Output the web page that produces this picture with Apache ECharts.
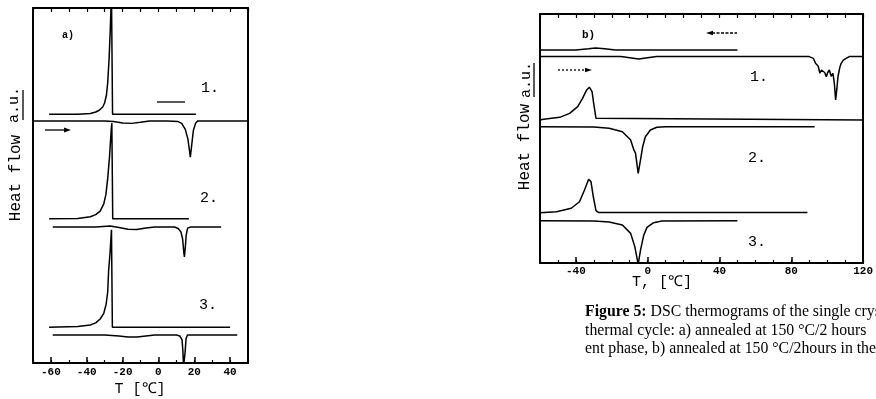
<!DOCTYPE html>
<html><head><meta charset="utf-8">
<script src="https://cdn.jsdelivr.net/npm/echarts@6/dist/echarts.min.js"></script>
<style>html,body{margin:0;padding:0;background:#fff}#c{width:876px;height:399px}</style>
</head><body><div id="c"></div>
<script>
// ---------- Panel a) : T [°C] vs heat flow (a.u.) ----------
const aXLabels = [-60, -40, -20, 0, 20, 40];
const aCool1 = [[-61,70.1],[-45,70.1],[-38,70.3],[-35,70.7],[-33,71.2],[-31,72.2],[-30,73.3],[-29,75.5],[-28.3,79],[-27.5,86],[-26.8,95],[-26.2,104],[-25.6,70.1],[21,70.1]];
const aHeat1 = [[-70,68.2],[-30,68.2],[-25,68.0],[-20,67.6],[-15,67.5],[-10,67.8],[-5,68.2],[5,68.2],[11,68.0],[13,67.5],[15,65.8],[16.5,63],[17.3,60],[17.8,58.0],[18.5,61],[19.5,65.5],[20.8,67.6],[22,68.2],[50,68.2]];
const aCool2 = [[-61,40.6],[-45,40.7],[-38,41.2],[-35,41.8],[-32.5,42.8],[-30.5,44.8],[-29.3,47.5],[-28.3,52],[-27.3,58],[-26.3,66],[-26,67.6],[-25.5,40.6],[17,40.6]];
const aHeat2 = [[-59,38.3],[-35,38.3],[-27,38.6],[-22,38.2],[-17,37.7],[-12,37.6],[-7,38.0],[-2,38.3],[9,38.3],[11,37.9],[12.5,37],[13.5,35],[14.2,31],[14.5,29.9],[15,32.5],[15.5,36],[16.3,38.0],[18,38.3],[35,38.3]];
const aCool3 = [[-61,10.1],[-45,10.3],[-38,10.7],[-35,11.3],[-32.5,12.4],[-30.5,14],[-29.2,16.5],[-28.3,20],[-27.8,26],[-27,31],[-26.2,37.5],[-25.7,10.1],[40,10.1]];
const aHeat3 = [[-59,7.9],[-30,7.9],[-22,7.6],[-17,7.3],[-12,7.3],[-7,7.6],[-2,7.9],[10,7.9],[12,7.6],[13.2,6.5],[13.7,3],[14,-1],[14.5,-1],[14.9,3],[15.4,6.8],[16.2,7.9],[44,7.9]];

// ---------- Panel b) ----------
const bXLabels = [-40, 0, 40, 80, 120];
const bCool1 = [[-60,85.5],[-40,85.5],[-33,86.0],[-29,86.3],[-24,86.0],[-18,85.5],[50,85.5]];
const bHeat1 = [[-60,82.9],[-15,82.9],[-10,82.4],[-5,81.9],[0,82.4],[5,82.9],[90,82.9],[92.3,82.2],[93.5,80.2],[95,79],[95.9,76.2],[96.8,77.5],[97.7,78.2],[98.6,76.5],[99.5,74.8],[100.3,76.5],[101.2,77.5],[102.2,75],[103.2,76.2],[104,72],[104.7,65.5],[105.4,70],[106,74.8],[107,78.5],[107.8,80.2],[109,81.5],[110.5,82.2],[112.3,82.9],[120,82.9]];
const bCool2 = [[-60,57.4],[-58,57.7],[-49,58.5],[-43.5,60.1],[-39,62.8],[-36.3,66.1],[-34,69.5],[-32.5,70.6],[-31,68.8],[-30.1,64.1],[-28.8,58.1],[-28,57.4],[120,57.4]];
const bHeat2 = [[-60,54.7],[-30,54.6],[-21.5,54.1],[-14.1,52.7],[-9.5,49.4],[-7.7,45.4],[-6.8,44.1],[-5.3,36.0],[-4,41.4],[-2.8,46.7],[-1.3,50.7],[1.5,53.4],[5.1,54.5],[10,54.7],[93,54.7]];
const bCool3 = [[-60,20.2],[-50.8,20.6],[-42.6,22.0],[-38,24.6],[-35.2,29.3],[-32.9,33.6],[-31.6,32.7],[-30.3,26.6],[-28.8,21.0],[-27.5,20.3],[89,20.3]];
const bHeat3 = [[-60,17.0],[-30,16.9],[-21.5,16.5],[-14.1,15.3],[-9.5,11.9],[-7.2,6.6],[-5.3,-0.5],[-4,5.2],[-2.2,11.2],[-0.4,14.3],[3.3,16.2],[7.9,16.9],[50,17.0]];

const captionLines = [
  '{b|Figure 5:} DSC thermograms of the single crystal',
  'thermal cycle: a) annealed at 150 \u00B0C/2 hours',
  'ent phase, b) annealed at 150 \u00B0C/2hours in the'
];

const BLACK = '#000';
const MONO = 'Liberation Mono';

function xAxesFor(gi, min, max, labels, margin) {
  return [
    { gridIndex: gi, type: 'value', min: min, max: max, interval: 10, position: 'bottom',
      axisLine: { show: true, onZero: false, lineStyle: { color: BLACK, width: 2 } },
      axisTick: { show: true, inside: true, length: 6, customValues: labels, lineStyle: { color: BLACK, width: 1.5 } },
      axisLabel: { show: true, customValues: labels, margin: margin, fontFamily: MONO, fontWeight: 'bold', fontSize: 11, color: BLACK },
      splitLine: { show: false } },
    { gridIndex: gi, type: 'value', min: min, max: max, interval: 10, position: 'bottom',
      axisLine: { show: false, onZero: false },
      axisTick: { show: true, inside: true, length: 3, lineStyle: { color: BLACK, width: 1.2 } },
      axisLabel: { show: false }, splitLine: { show: false } },
    { gridIndex: gi, type: 'value', min: min, max: max, interval: 10, position: 'top',
      axisLine: { show: true, onZero: false, lineStyle: { color: BLACK, width: 2 } },
      axisTick: { show: true, inside: true, length: 4, lineStyle: { color: BLACK, width: 1.2 } },
      axisLabel: { show: false }, splitLine: { show: false } }
  ];
}
function yAxesFor(gi) {
  return ['left', 'right'].map(p => ({
    gridIndex: gi, type: 'value', min: 0, max: 100, position: p,
    axisLine: { show: true, onZero: false, lineStyle: { color: BLACK, width: 2 } },
    axisTick: { show: false }, axisLabel: { show: false }, splitLine: { show: false }
  }));
}
function line(data, xi, yi) {
  return { type: 'line', data: data, xAxisIndex: xi, yAxisIndex: yi, showSymbol: false, symbol: 'none',
    clip: true, lineStyle: { color: BLACK, width: 1.5 }, silent: true, animation: false };
}
function txt(x, y, text, font, extra) {
  return Object.assign({ type: 'text', x: x, y: y, silent: true,
    style: Object.assign({ text: text, font: font, fill: BLACK, textAlign: 'left', textVerticalAlign: 'middle' }, extra || {}) });
}
function vtxt(x, y, text, font) {
  return { type: 'text', x: x, y: y, rotation: Math.PI / 2, silent: true,
    style: { text: text, font: font, fill: BLACK, textAlign: 'center', textVerticalAlign: 'middle' } };
}
function seg(x1, y1, x2, y2, dash) {
  return { type: 'line', silent: true, shape: { x1: x1, y1: y1, x2: x2, y2: y2 },
    style: { stroke: BLACK, lineWidth: 1.3, lineDash: dash || null } };
}
function head(pts) {
  return { type: 'polygon', silent: true, shape: { points: pts }, style: { fill: BLACK } };
}

const chart = echarts.init(document.getElementById('c'), null, { renderer: 'canvas' });
const graphics = [
  // panel a annotations
  txt(62, 35, 'a)', 'bold 10px ' + MONO),
  txt(201, 88, '1.', '15px ' + MONO),
  txt(200, 198, '2.', '15px ' + MONO),
  txt(199, 305, '3.', '15px ' + MONO),
  seg(157, 102, 185, 102),
  seg(45, 130, 66, 130), head([[71, 130], [64, 127.5], [64, 132.5]]),
  vtxt(16, 178, 'Heat flow', '16px ' + MONO),
  vtxt(14, 105, 'a.u.', '15px ' + MONO),
  seg(23, 90, 23, 120),
  txt(140, 389, 'T [\u2103]', '15px ' + MONO, { textAlign: 'center' }),
  // panel b annotations
  txt(582, 35, 'b)', 'bold 11px ' + MONO),
  seg(712, 33, 737, 33, [3, 1.5]), head([[706, 33], [713, 30.8], [713, 35.2]]),
  seg(558, 70, 586, 70, [2, 2]), head([[592, 70], [585, 67.8], [585, 72.2]]),
  txt(750, 77, '1.', '15px ' + MONO),
  txt(748, 158, '2.', '15px ' + MONO),
  txt(748, 242, '3.', '15px ' + MONO),
  vtxt(525, 147, 'Heat flow', '16px ' + MONO),
  vtxt(526, 80, 'a.u.', '15px ' + MONO),
  seg(534, 63, 534, 97),
  txt(662, 282, 'T, [\u2103]', '15px ' + MONO, { textAlign: 'center' })
];
captionLines.forEach((t, i) => {
  graphics.push({ type: 'text', x: 585, y: 312 + i * 18.5, silent: true,
    style: { text: t, font: '15.8px Liberation Serif', fill: BLACK, textVerticalAlign: 'middle',
      rich: { b: { fontWeight: 'bold', fontSize: 15.8, fontFamily: 'Liberation Serif' } } } });
});

chart.setOption({
  animation: false,
  backgroundColor: '#fff',
  grid: [
    { left: 33, top: 8, width: 215, height: 355 },
    { left: 540, top: 14, width: 327, height: 249 }
  ],
  xAxis: [].concat(xAxesFor(0, -70, 50, aXLabels, 4), xAxesFor(1, -60, 120, bXLabels, 3)),
  yAxis: [].concat(yAxesFor(0), yAxesFor(1)),
  series: [
    line(aCool1, 0, 0), line(aHeat1, 0, 0), line(aCool2, 0, 0), line(aHeat2, 0, 0), line(aCool3, 0, 0), line(aHeat3, 0, 0),
    line(bCool1, 3, 2), line(bHeat1, 3, 2), line(bCool2, 3, 2), line(bHeat2, 3, 2), line(bCool3, 3, 2), line(bHeat3, 3, 2)
  ],
  graphic: graphics
});
</script>
</body></html>
